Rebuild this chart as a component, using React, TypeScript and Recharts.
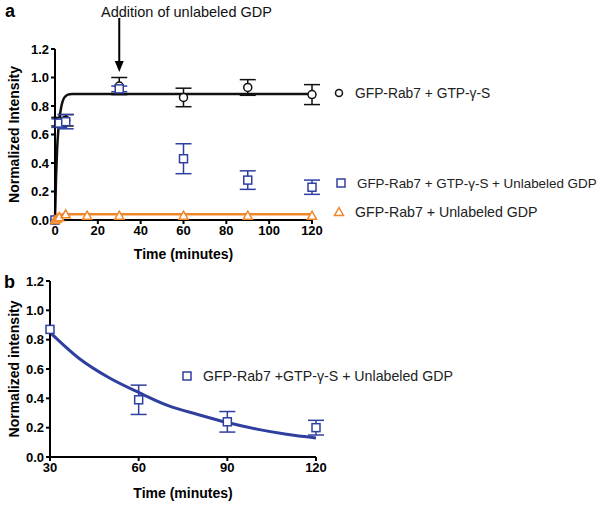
import React from "react";
import {
  ComposedChart,
  ErrorBar,
  Line,
  ReferenceDot,
  ReferenceLine,
  Scatter,
  XAxis,
  YAxis,
} from "recharts";

const FONT = "'Liberation Sans', Arial, sans-serif";
const BLACK = "#111";
const BLUE = "#2f3f9f";
const ORANGE = "#f0862a";

// panel a
const timesA = [0, 2, 5, 30, 60, 90, 120];
const gtpMean = [0.0, 0.69, 0.7, 0.94, 0.86, 0.93, 0.88];
const gtpErr = [0, 0.03, 0.04, 0.06, 0.065, 0.055, 0.07];
const chaseMean = [0.0, 0.68, 0.69, 0.92, 0.43, 0.28, 0.23];
const chaseErr = [0, 0.03, 0.05, 0.02, 0.105, 0.065, 0.05];
const gdpTimes = [0, 1, 2, 5, 15, 30, 60, 90, 120];
const gdpMean = [0.0, 0.01, 0.02, 0.04, 0.03, 0.03, 0.03, 0.03, 0.03];

const gtpFitTimes = [0, 0.5, 1, 1.5, 2, 3, 4, 5, 6, 8, 10, 15, 120];
const gtpFitValues = [0, 0.3, 0.5, 0.62, 0.7, 0.8, 0.85, 0.87, 0.88, 0.885, 0.885, 0.885, 0.885];
const gdpFitTimes = [0, 1, 2, 3, 5, 120];
const gdpFitValues = [0, 0.02, 0.033, 0.038, 0.04, 0.04];

// panel b
const timesB = [30, 60, 90, 120];
const decayMean = [0.87, 0.39, 0.24, 0.2];
const decayErr = [0, 0.1, 0.07, 0.05];
const decayFitTimes = [30, 40, 50, 60, 70, 80, 90, 100, 110, 120];
const decayFitValues = [0.85, 0.67, 0.54, 0.44, 0.35, 0.29, 0.235, 0.19, 0.155, 0.13];

const yTicks = [0, 0.2, 0.4, 0.6, 0.8, 1.0, 1.2];
const xTicksA = [0, 20, 40, 60, 80, 100, 120];
const xTicksB = [30, 60, 90, 120];

const zip = (xs: number[], ys: number[], es?: number[]) =>
  xs.map((t, i) => ({ t, v: ys[i], err: es ? es[i] : 0 }));

const gtpData = zip(timesA, gtpMean, gtpErr);
const chaseData = zip(timesA, chaseMean, chaseErr);
const gdpData = zip(gdpTimes, gdpMean);
const gtpFit = zip(gtpFitTimes, gtpFitValues);
const gdpFit = zip(gdpFitTimes, gdpFitValues);
const decayData = zip(timesB, decayMean, decayErr);
const decayFit = zip(decayFitTimes, decayFitValues);

const tickStyle = { fontSize: 13, fontWeight: "bold" as const, fill: "#000", fontFamily: FONT };
const axisLine = { stroke: "#000", strokeWidth: 2 };
const titleStyle = { fontSize: 14, fontWeight: "bold", fontFamily: FONT, fill: "#000" };

const Circle = (p: any) => (
  <circle cx={p.cx} cy={p.cy} r={4} fill="#fff" stroke={BLACK} strokeWidth={1.5} />
);
const Square = (p: any) => (
  <rect x={p.cx - 4} y={p.cy - 4} width={8} height={8} fill="#fff" stroke={BLUE} strokeWidth={1.5} />
);
const Triangle = (p: any) => (
  <path
    d={`M${p.cx},${p.cy - 4.5}L${p.cx + 4.5},${p.cy + 3.5}L${p.cx - 4.5},${p.cy + 3.5}Z`}
    fill="#fff"
    stroke={ORANGE}
    strokeWidth={1.5}
  />
);
const ArrowHead = (p: any) => (
  <path d={`M${p.cx - 4.5},${p.cy - 11}L${p.cx + 4.5},${p.cy - 11}L${p.cx},${p.cy}Z`} fill="#000" />
);

const fmt = (v: number) => v.toFixed(1);

function LegendRow({ top, left, size = 13.8, children, symbol }: any) {
  return (
    <div
      style={{
        position: "absolute",
        top,
        left,
        height: 17,
        display: "flex",
        alignItems: "center",
        fontFamily: FONT,
        fontSize: size,
        color: "#222",
        whiteSpace: "nowrap",
      }}
    >
      <svg width={14} height={14} style={{ marginRight: 9 }}>
        {symbol}
      </svg>
      {children}
    </div>
  );
}

export default function App() {
  return (
    <div style={{ position: "absolute", left: 0, top: 0, width: 607, height: 506, background: "#fff" }}>
      <div style={{ position: "absolute", left: 5, top: 1, fontFamily: FONT, fontWeight: "bold", fontSize: 18 }}>a</div>
      <div style={{ position: "absolute", left: 4, top: 272, fontFamily: FONT, fontWeight: "bold", fontSize: 18 }}>b</div>
      <div style={{ position: "absolute", left: 101, top: 4, fontFamily: FONT, fontSize: 14.5, color: "#111" }}>
        Addition of unlabeled GDP
      </div>

      <div style={{ position: "absolute", left: 0, top: 0 }}>
        <ComposedChart width={330} height={262} margin={{ top: 49, right: 18, left: 0, bottom: 0 }}>
          <XAxis
            type="number"
            dataKey="t"
            domain={[0, 120]}
            ticks={xTicksA}
            tick={tickStyle}
            axisLine={axisLine}
            tickLine={axisLine}
            tickSize={4}
            height={42}
            label={{ value: "Time (minutes)", position: "insideBottom", offset: 3, style: titleStyle }}
          />
          <YAxis
            type="number"
            dataKey="v"
            domain={[0, 1.2]}
            ticks={yTicks}
            tickFormatter={fmt}
            tick={tickStyle}
            axisLine={axisLine}
            tickLine={axisLine}
            tickSize={4}
            width={55}
            label={{ value: "Normalized Intensity", angle: -90, position: "insideLeft", offset: 14, textAnchor: "middle", style: { ...titleStyle, textAnchor: "middle" } }}
          />
          <Line data={gtpFit} dataKey="v" type="monotone" stroke={BLACK} strokeWidth={2.5} dot={false} isAnimationActive={false} />
          <Line data={gdpFit} dataKey="v" type="monotone" stroke={ORANGE} strokeWidth={2.5} dot={false} isAnimationActive={false} />
          <Scatter data={gtpData} dataKey="v" shape={Circle} isAnimationActive={false}>
            <ErrorBar dataKey="err" direction="y" width={8} stroke={BLACK} strokeWidth={1.5} />
          </Scatter>
          <Scatter data={chaseData} dataKey="v" shape={Square} isAnimationActive={false}>
            <ErrorBar dataKey="err" direction="y" width={8} stroke={BLUE} strokeWidth={1.5} />
          </Scatter>
          <Scatter data={gdpData} dataKey="v" shape={Triangle} isAnimationActive={false} />
          <ReferenceLine
            segment={[{ x: 30, y: 1.418 }, { x: 30, y: 1.1 }]}
            stroke="#000"
            strokeWidth={2}
            ifOverflow="visible"
          />
          <ReferenceDot x={30} y={1.039} ifOverflow="visible" shape={ArrowHead} />
        </ComposedChart>
      </div>

      <LegendRow top={84.5} left={332} symbol={<circle cx={7} cy={7} r={3.5} fill="#fff" stroke={BLACK} strokeWidth={1.5} />}>
        GFP-Rab7 + GTP-γ-S
      </LegendRow>
      <LegendRow top={174.5} left={334} size={13.4} symbol={<rect x={3} y={3} width={8} height={8} fill="#fff" stroke={BLUE} strokeWidth={1.5} />}>
        GFP-Rab7 + GTP-γ-S + Unlabeled GDP
      </LegendRow>
      <LegendRow top={203.5} left={332} size={14.2} symbol={<path d="M7,2.5L11.5,10.5L2.5,10.5Z" fill="#fff" stroke={ORANGE} strokeWidth={1.5} />}>
        GFP-Rab7 + Unlabeled GDP
      </LegendRow>

      <div style={{ position: "absolute", left: 0, top: 260 }}>
        <ComposedChart width={340} height={246} margin={{ top: 21, right: 24, left: 0, bottom: 0 }}>
          <XAxis
            type="number"
            dataKey="t"
            domain={[30, 120]}
            ticks={xTicksB}
            tick={tickStyle}
            axisLine={axisLine}
            tickLine={axisLine}
            tickSize={4}
            height={49}
            label={{ value: "Time (minutes)", position: "insideBottom", offset: 8, style: titleStyle }}
          />
          <YAxis
            type="number"
            dataKey="v"
            domain={[0, 1.2]}
            ticks={yTicks}
            tickFormatter={fmt}
            tick={tickStyle}
            axisLine={axisLine}
            tickLine={axisLine}
            tickSize={4}
            width={50}
            label={{ value: "Normalized intensity", angle: -90, position: "insideLeft", offset: 14, textAnchor: "middle", style: { ...titleStyle, textAnchor: "middle" } }}
          />
          <Line data={decayFit} dataKey="v" type="monotone" stroke={BLUE} strokeWidth={3} dot={false} isAnimationActive={false} />
          <Scatter data={decayData} dataKey="v" shape={Square} isAnimationActive={false}>
            <ErrorBar dataKey="err" direction="y" width={8} stroke={BLUE} strokeWidth={1.5} />
          </Scatter>
        </ComposedChart>
      </div>

      <LegendRow top={367.5} left={180} size={14.2} symbol={<rect x={3} y={3} width={8} height={8} fill="#fff" stroke={BLUE} strokeWidth={1.5} />}>
        GFP-Rab7 +GTP-γ-S + Unlabeled GDP
      </LegendRow>
    </div>
  );
}
